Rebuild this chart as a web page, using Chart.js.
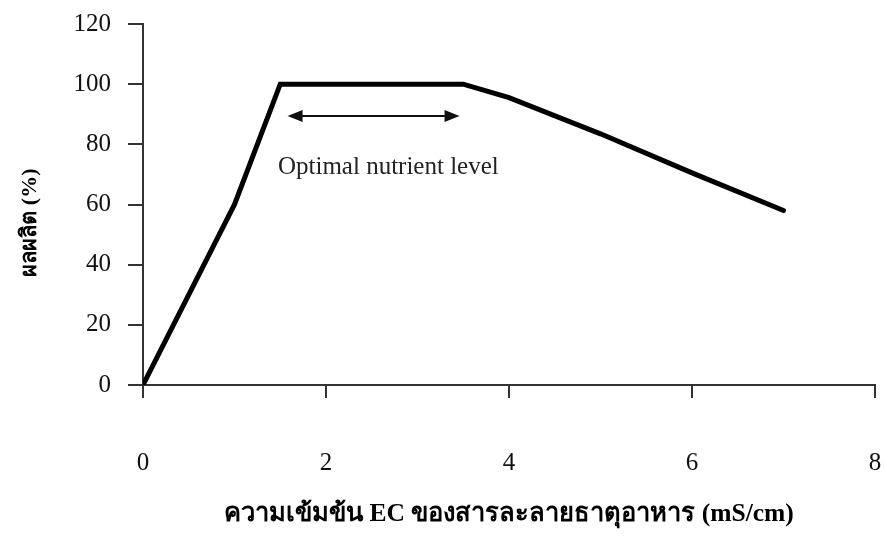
<!DOCTYPE html>
<html>
<head>
<meta charset="utf-8">
<script src="https://cdn.jsdelivr.net/npm/chart.js@4"></script>
<style>
  html, body { margin: 0; padding: 0; background: #fff; overflow: hidden; }
  canvas { display: block; }
</style>
</head>
<body>
<canvas id="chart" width="885" height="538"></canvas>
<script>
// EC (mS/cm) vs yield (%)
var ecValues = [0, 1, 1.5, 3.5, 4, 5, 6, 7];
var yieldValues = [0, 60, 100, 100, 95.5, 83.5, 70.5, 58];

var xTicks = [0, 2, 4, 6, 8];
var yTicks = [0, 20, 40, 60, 80, 100, 120];

// arrow showing the optimal range
var arrowRange = [1.58, 3.46];
var arrowLevel = 89.4;
var noteText = "Optimal nutrient level";
var notePos = [1.475, 72.4];

var xTitle = "ความเข้มข้น EC ของสารละลายธาตุอาหาร (mS/cm)";
var yTitle = "ผลผลิต (%)";
var yTitleCenter = 54; // value on y scale where the rotated title sits

var serif = "'Liberation Serif', 'Times New Roman', serif";

var points = ecValues.map(function (x, i) {
    return { x: x, y: yieldValues[i] };
});

var annotationPlugin = {
    id: "optimalArrow",
    afterDatasetsDraw: function (chart) {
        var ctx = chart.ctx;
        var xs = chart.scales.x;
        var ys = chart.scales.y;
        var x1 = xs.getPixelForValue(arrowRange[0]);
        var x2 = xs.getPixelForValue(arrowRange[1]);
        var y = ys.getPixelForValue(arrowLevel);
        var head = 15;

        ctx.save();
        ctx.strokeStyle = "#111";
        ctx.fillStyle = "#111";
        ctx.lineWidth = 2;
        ctx.beginPath();
        ctx.moveTo(x1 + head - 2, y);
        ctx.lineTo(x2 - head + 2, y);
        ctx.stroke();

        ctx.beginPath();
        ctx.moveTo(x1, y);
        ctx.lineTo(x1 + head, y - 6);
        ctx.lineTo(x1 + head, y + 6);
        ctx.closePath();
        ctx.fill();

        ctx.beginPath();
        ctx.moveTo(x2, y);
        ctx.lineTo(x2 - head, y - 6);
        ctx.lineTo(x2 - head, y + 6);
        ctx.closePath();
        ctx.fill();

        ctx.font = "25px " + serif;
        ctx.textAlign = "left";
        ctx.textBaseline = "middle";
        ctx.fillStyle = "#222";
        ctx.fillText(noteText, xs.getPixelForValue(notePos[0]), ys.getPixelForValue(notePos[1]));

        // y axis title, rotated
        ctx.translate(30, ys.getPixelForValue(yTitleCenter));
        ctx.rotate(-Math.PI / 2);
        ctx.textAlign = "center";
        ctx.fillStyle = "#000";
        ctx.font = "bold 22px " + serif;
        ctx.fillText(yTitle, 0, 0);
        ctx.restore();
    }
};

var ctx = document.getElementById("chart").getContext("2d");

var myChart = new Chart(ctx, {
    type: "line",
    data: {
        datasets: [{
            data: points,
            borderColor: "#000",
            borderWidth: 5,
            pointRadius: 0,
            fill: false,
            tension: 0,
            borderJoinStyle: "miter",
            borderCapStyle: "round"
        }]
    },
    options: {
        responsive: false,
        animation: false,
        layout: { padding: { left: 0, right: 10, top: 24, bottom: 0 } },
        plugins: {
            legend: { display: false },
            tooltip: { enabled: false }
        },
        scales: {
            x: {
                type: "linear",
                min: 0,
                max: 8,
                afterBuildTicks: function (scale) {
                    scale.ticks = xTicks.map(function (v) { return { value: v }; });
                },
                afterFit: function (scale) {
                    scale.height = 153;
                    scale.paddingRight = 0;
                    scale.paddingLeft = 0;
                },
                grid: {
                    display: true,
                    drawOnChartArea: false,
                    drawTicks: true,
                    tickLength: 13,
                    color: "#333",
                    lineWidth: 2
                },
                border: { display: true, color: "#333", width: 2 },
                ticks: {
                    padding: 50,
                    color: "#111",
                    font: { family: serif, size: 25 }
                },
                title: {
                    display: true,
                    text: xTitle,
                    color: "#000",
                    font: { family: serif, size: 25.5, weight: "bold" },
                    padding: { top: 0, bottom: 8 }
                }
            },
            y: {
                min: 0,
                max: 120,
                afterBuildTicks: function (scale) {
                    scale.ticks = yTicks.map(function (v) { return { value: v }; });
                },
                afterFit: function (scale) {
                    scale.width = 143;
                    scale.paddingTop = 0;
                    scale.paddingBottom = 0;
                },
                grid: {
                    display: true,
                    drawOnChartArea: false,
                    drawTicks: true,
                    tickLength: 15,
                    color: "#333",
                    lineWidth: 2
                },
                border: { display: true, color: "#333", width: 2 },
                ticks: {
                    padding: 17,
                    color: "#111",
                    font: { family: serif, size: 25 }
                }
            }
        }
    },
    plugins: [annotationPlugin]
});
</script>
</body>
</html>
